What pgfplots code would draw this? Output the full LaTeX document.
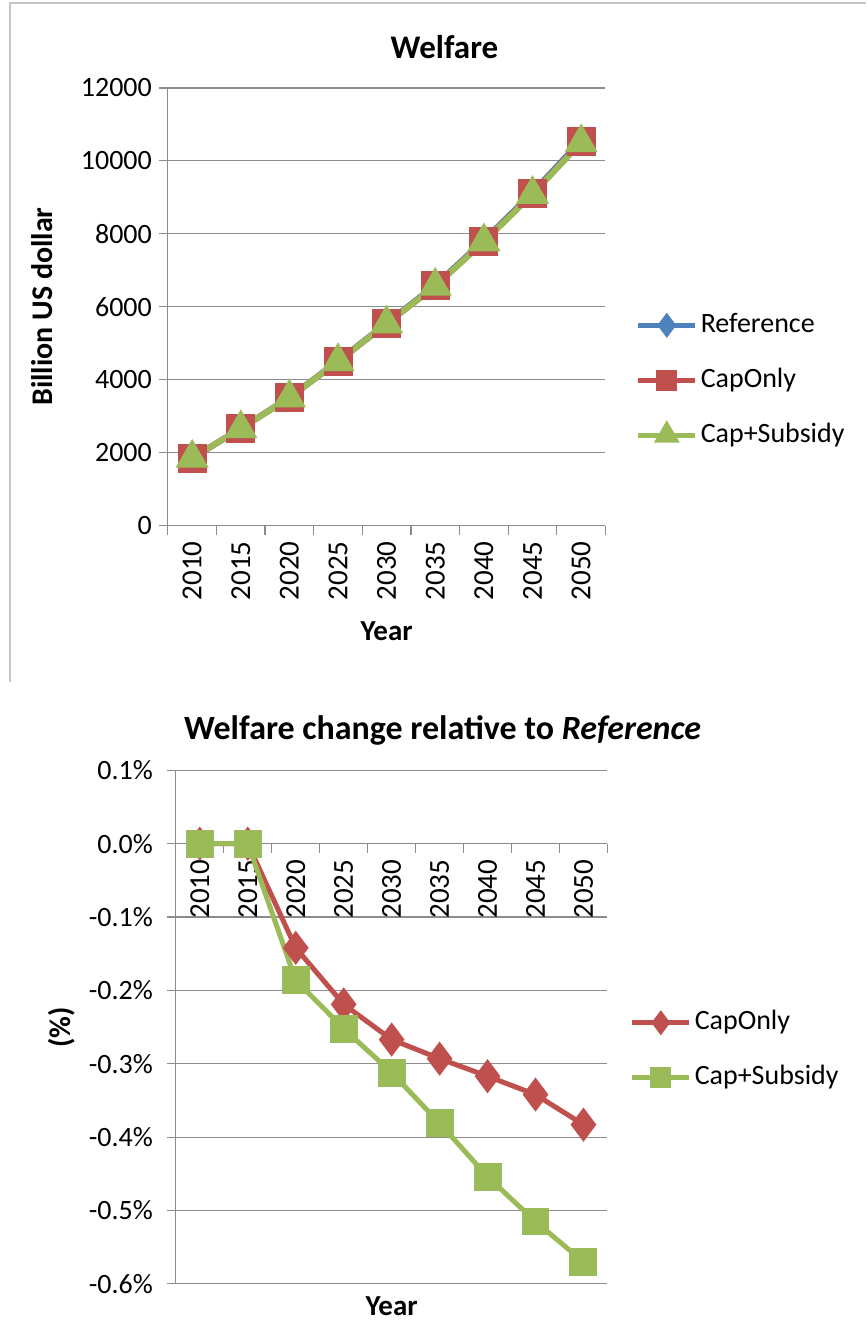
\documentclass[border=0pt]{standalone}
\usepackage{fontspec}
\setmainfont{Carlito}
\usepackage{pgfplots}
\pgfplotsset{compat=1.18}
\definecolor{xblue}{HTML}{4F81BD}
\definecolor{xred}{HTML}{C0504D}
\definecolor{xgreen}{HTML}{9BBB59}
\definecolor{xgray}{HTML}{8C8C8C}
\pgfplotsset{
  common/.style={
    scale only axis,
    xmin=-0.5, xmax=8.5,
    tick align=outside,
    major tick length=4.5pt,
    scaled ticks=false,
    axis line style={draw=xgray, line width=0.6pt},
    every tick/.style={draw=xgray, line width=0.6pt},
    ymajorgrids,
    grid style={draw=xgray, line width=0.6pt},
    xtick={-0.5,0.5,1.5,2.5,3.5,4.5,5.5,6.5,7.5,8.5},
    xticklabels={,,,,,,,,,,},
    extra x ticks={0,1,2,3,4,5,6,7,8},
    extra x tick labels={2010,2015,2020,2025,2030,2035,2040,2045,2050},
    extra x tick style={tick style={draw=none}, grid=none},
    x tick label style={rotate=90, anchor=east, font=\fontsize{14.5}{15}\selectfont},
    y tick label style={font=\fontsize{14}{15}\selectfont},
    legend cell align=left,
    legend style={draw=none, fill=none, inner sep=0pt, row sep=11.5pt,
      font=\fontsize{14}{15}\selectfont,
      nodes={inner sep=1.5pt, text height=10pt, text depth=3pt}},
    legend image code/.code={\draw[mark repeat=2,mark phase=2,##1] plot coordinates {(0pt,0pt) (14.25pt,0pt) (28.5pt,0pt)};},
    clip=false,
  }
}
\begin{document}
\begin{tikzpicture}[x=1pt,y=1pt]
\path (0,0) rectangle (433.5,661);
% frame of top chart
\draw[gray!45, line width=0.6pt] (5,319.5) -- (5,659.5) -- (433.5,659.5);
% ---------------- top chart ----------------
\begin{axis}[common,
  at={(84pt,398pt)}, anchor=south west,
  width=219pt, height=219pt,
  ymin=0, ymax=12000,
  axis lines*=left,
  ytick={0,2000,4000,6000,8000,10000,12000},
  yticklabels={0,2000,4000,6000,8000,10000,12000},
  title={\bfseries\fontsize{16.5}{18}\selectfont Welfare},
  title style={at={(axis description cs:0.632,1.0936)}, anchor=center, yshift=-6pt},
  ylabel={\bfseries\fontsize{15}{16}\selectfont Billion US dollar},
  ylabel style={at={(axis description cs:-0.2877,0.5)}, anchor=center},
  xlabel={\bfseries\fontsize{14.5}{15}\selectfont Year},
  xlabel style={at={(axis description cs:0.5,-0.242)}, anchor=center},
  legend style={at={(axis description cs:1.0685,0.332)}, anchor=west},
]
\addplot[xblue, line width=3pt, mark=diamond*, mark size=4pt, forget plot]
  coordinates {(0,1850) (1,2660) (2,3510) (3,4510) (4,5550) (5,6590) (6,7820) (7,9130) (8,10560)};
\addplot[xred, line width=3pt, mark=square*, mark size=5.75pt, forget plot]
  coordinates {(0,1850) (1,2660) (2,3505) (3,4500) (4,5535) (5,6571) (6,7795) (7,9099) (8,10519)};
\addplot[xgreen, line width=3pt, mark=triangle*, mark size=6.6pt, forget plot]
  coordinates {(0,1850) (1,2660) (2,3503) (3,4499) (4,5533) (5,6565) (6,7784) (7,9083) (8,10500)};
\addlegendimage{xblue, line width=2.5pt, mark=diamond*, mark size=4.2pt}
\addlegendentry{Reference}
\addlegendimage{xred, line width=2.5pt, mark=square*, mark size=4pt}
\addlegendentry{CapOnly}
\addlegendimage{xgreen, line width=2.5pt, mark=triangle*, mark size=5pt}
\addlegendentry{Cap+Subsidy}
\end{axis}
% ---------------- bottom chart ----------------
\begin{axis}[common,
  at={(88pt,18.5pt)}, anchor=south west,
  width=216pt, height=257pt,
  ymin=-0.6, ymax=0.1,
  axis y line*=left, axis x line*=middle,
  ytick={-0.6,-0.5,-0.4,-0.3,-0.2,-0.1,0,0.1},
  yticklabels={-0.6\%,-0.5\%,-0.4\%,-0.3\%,-0.2\%,-0.1\%,0.0\%,0.1\%},
  y tick label style={xshift=-3.5pt},
  title={\bfseries\fontsize{17}{18}\selectfont Welfare change relative to \textit{Reference}},
  title style={at={(axis description cs:0.618,1.0798)}, anchor=center, yshift=-6.5pt},
  ylabel={\bfseries\fontsize{15}{16}\selectfont (\%)},
  ylabel style={at={(axis description cs:-0.264,0.5)}, anchor=center, rotate=0},
  xlabel={\bfseries\fontsize{14.5}{15}\selectfont Year},
  xlabel style={at={(axis description cs:0.5,-0.0428)}, anchor=center},
  legend style={at={(axis description cs:1.051,0.455)}, anchor=west},
]
\addplot[xred, line width=2.5pt, mark=diamond*, mark size=6.5pt, forget plot]
  coordinates {(0,0) (1,0) (2,-0.142) (3,-0.219) (4,-0.267) (5,-0.293) (6,-0.317) (7,-0.342) (8,-0.383)};
\addplot[xgreen, line width=2.5pt, mark=square*, mark size=5.75pt, forget plot]
  coordinates {(0,0) (1,0) (2,-0.186) (3,-0.252) (4,-0.312) (5,-0.381) (6,-0.454) (7,-0.515) (8,-0.570)};
\addlegendimage{xred, line width=2.5pt, mark=diamond*, mark size=4.2pt}
\addlegendentry{CapOnly}
\addlegendimage{xgreen, line width=2.5pt, mark=square*, mark size=4pt}
\addlegendentry{Cap+Subsidy}
\end{axis}
\end{tikzpicture}
\end{document}
